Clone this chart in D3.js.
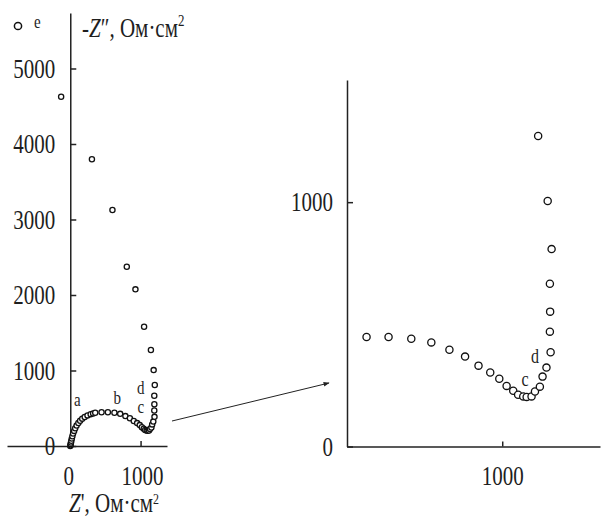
<!DOCTYPE html>
<html>
<head>
<meta charset="utf-8">
<script src="https://cdn.jsdelivr.net/npm/d3@7"></script>
<style>
  body { margin: 0; background: #fff; }
  text { font-family: "Liberation Serif", "Times New Roman", serif; fill: #1e1e1e; }
</style>
</head>
<body>
<svg id="chart" width="603" height="520"></svg>
<script>
// impedance data, Ом·см2
const zRe = [0, 3, 6, 10, 15, 22, 30, 40, 55, 70, 90, 115, 140, 170, 205, 245, 290, 325, 355,
  445, 535, 628, 710, 784, 848, 903, 951, 988, 1018, 1045, 1065, 1086, 1100, 1120, 1134,
  1154, 1165, 1181, 1198, 1195, 1196, 1195, 1202, 1186, 1147,
  1050, 927, 804, 600, 308, -130];
const zIm = [0, 10, 25, 45, 70, 100, 130, 165, 200, 235, 270, 305, 335, 362, 385, 405, 422, 432, 440,
  448, 448, 441, 426, 396, 368, 331, 303, 277, 248, 228, 212, 205, 203, 205, 225,
  245, 286, 323, 386, 470, 552, 666, 808, 1005, 1271,
  1580, 2075, 2375, 3126, 3797, 4626];

const leftYTicks = [0, 1000, 2000, 3000, 4000, 5000];
const leftXTicks = [0, 1000];
const rightYTicks = [0, 1000];
const rightXTicks = [1000];

// point letters, placed at data coords (letter centre)
const leftNotes = [["a", 102, 596], ["b", 670, 662], ["d", 1003, 800], ["c", 1003, 500]];
const rightNotes = [["d", 1134, 375], ["c", 1093, 268]];

const points = zRe.map((x, i) => ({x, y: zIm[i]}));

const svg = d3.select("#chart");
const K = 1.27;   // the picture is a bit stretched vertically
const FS = 21;

function place(t, x, y) {
  t.attr("x", null).attr("y", null).attr("dy", null)
    .attr("transform", `translate(${x},${y}) scale(1,${K})`);
}

// ---- left chart ----
const xL = d3.scaleLinear().domain([-900, 1376]).range([7, 167]);
const yL = d3.scaleLinear().domain([0, 5735]).range([446, 13]);

function styleAxis(g) {
  g.select(".domain").attr("stroke", "#222").attr("stroke-width", 1.5);
  g.selectAll(".tick line").attr("stroke", "#222").attr("stroke-width", 1.5);
  g.selectAll("text").attr("font-size", FS).attr("fill", "#1e1e1e")
    .attr("font-family", "Liberation Serif, Times New Roman, serif");
}

const gyL = svg.append("g").attr("transform", `translate(${xL(0)},0)`)
  .call(d3.axisLeft(yL).tickValues(leftYTicks).tickSizeInner(-6).tickSizeOuter(0).tickFormat(d3.format("d")))
  .call(styleAxis);
gyL.selectAll(".tick text").each(function() { place(d3.select(this), -15, 8.8); });

const gxL = svg.append("g").attr("transform", `translate(0,${yL(0)})`)
  .call(d3.axisBottom(xL).tickValues(leftXTicks).tickSizeInner(-5).tickSizeOuter(0).tickFormat(d3.format("d")))
  .call(styleAxis);
gxL.selectAll(".tick text").each(function(d) { place(d3.select(this), d === 0 ? -2 : 1.5, 39); });

svg.append("g").selectAll("circle")
  .data(points)
  .join("circle")
  .attr("cx", d => xL(d.x))
  .attr("cy", d => yL(d.y))
  .attr("r", 2.6)
  .attr("fill", "#fff")
  .attr("stroke", "#111")
  .attr("stroke-width", 1.3);

svg.append("g").selectAll("text")
  .data(leftNotes)
  .join("text")
  .attr("font-size", 15)
  .attr("text-anchor", "middle")
  .text(d => d[0])
  .each(function(d) { place(d3.select(this), xL(d[1]), yL(d[2]) + (d[0] === "b" || d[0] === "d" ? 8 : 5)); });

// axis titles
const tY = svg.append("text").attr("font-size", FS);
tY.append("tspan").text("-");
tY.append("tspan").attr("font-style", "italic").text("Z");
tY.append("tspan").text("\u2033, Ом·см");
tY.append("tspan").attr("font-size", 13).attr("dy", -9).text("2");
place(tY, 82, 37);

const tX = svg.append("text").attr("font-size", FS);
tX.append("tspan").attr("font-style", "italic").text("Z");
tX.append("tspan").text("', Ом·см");
tX.append("tspan").attr("font-size", 12).attr("dy", -6).text("2");
place(tX, 69, 512);

// legend
svg.append("circle").attr("cx", 18).attr("cy", 26).attr("r", 3.6)
  .attr("fill", "#fff").attr("stroke", "#111").attr("stroke-width", 1.5);
place(svg.append("text").attr("font-size", 15).text("e"), 34, 28);

// ---- right chart (zoom) ----
const xR = d3.scaleLinear().domain([365, 1400]).range([347, 600]);
const yR = d3.scaleLinear().domain([0, 1500]).range([446.5, 80]);

const gyR = svg.append("g").attr("transform", `translate(${xR(365)},0)`)
  .call(d3.axisLeft(yR).tickValues(rightYTicks).tickSizeInner(-6).tickSizeOuter(0).tickFormat(d3.format("d")))
  .call(styleAxis);
gyR.selectAll(".tick text").each(function() { place(d3.select(this), -14, 8.8); });

const gxR = svg.append("g").attr("transform", `translate(0,${yR(0)})`)
  .call(d3.axisBottom(xR).tickValues(rightXTicks).tickSizeInner(-5).tickSizeOuter(0).tickFormat(d3.format("d")))
  .call(styleAxis);
gxR.selectAll(".tick text").each(function() { place(d3.select(this), 0, 38); });

svg.append("g").selectAll("circle")
  .data(points.filter(d => d.x >= 365 && d.x <= 1400 && d.y <= 1500))
  .join("circle")
  .attr("cx", d => xR(d.x))
  .attr("cy", d => yR(d.y))
  .attr("r", 3.6)
  .attr("fill", "#fff")
  .attr("stroke", "#111")
  .attr("stroke-width", 1.3);

svg.append("g").selectAll("text")
  .data(rightNotes)
  .join("text")
  .attr("font-size", 16)
  .attr("text-anchor", "middle")
  .text(d => d[0])
  .each(function(d) { place(d3.select(this), xR(d[1]), yR(d[2]) + (d[0] === "d" ? 8 : 5)); });

// arrow from the small loop to the zoomed view
svg.append("defs").append("marker")
  .attr("id", "arrow")
  .attr("viewBox", "0 0 10 10")
  .attr("refX", 9)
  .attr("refY", 5)
  .attr("markerWidth", 8)
  .attr("markerHeight", 6)
  .attr("orient", "auto")
  .append("path")
  .attr("d", "M 0 1 L 10 5 L 0 9 z")
  .attr("fill", "#222");

svg.append("line")
  .attr("x1", 172).attr("y1", 421)
  .attr("x2", 329).attr("y2", 383)
  .attr("stroke", "#222")
  .attr("stroke-width", 1)
  .attr("marker-end", "url(#arrow)");
</script>
</body>
</html>
